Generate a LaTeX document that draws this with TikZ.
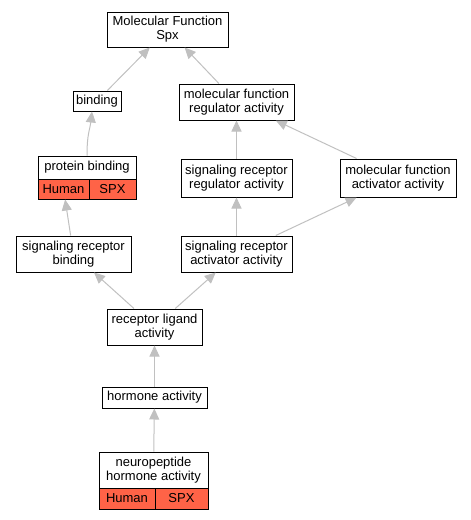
\documentclass[tikz,border=0pt]{standalone}
\usepackage{fontspec}
\setmainfont{Liberation Sans}
\usetikzlibrary{arrows.meta,calc}
\definecolor{tomato}{HTML}{FF6347}
\definecolor{edgegray}{HTML}{C0C0C0}
\begin{document}
\begin{tikzpicture}[
    x=1pt, y=-1pt,
    font=\fontsize{13}{14}\selectfont,
    box/.style={draw, fill=white, line width=1pt, align=center, inner sep=0pt},
    cell/.style={box, fill=tomato},
    edge/.style={draw=edgegray, line width=1pt, -{Triangle[length=11pt,width=10pt,fill=edgegray]}}
]
\useasboundingbox (0,0) rectangle (471,520);

% Top
\node[box, minimum width=121pt, minimum height=35pt] (mf) at (167.5, 29.5) {Molecular Function\\Spx};
\node[box, minimum width=48pt, minimum height=20pt] (bind) at (97, 101) {binding};
\node[box, minimum width=115pt, minimum height=36pt] (mfreg) at (236.5, 102) {molecular function\\regulator activity};

% Middle
\node[box, minimum width=98pt, minimum height=23pt] (pb) at (87, 167.5) {protein binding};
\node[cell, minimum width=51pt, minimum height=20pt] (pbhuman) at (63.5, 189) {Human};
\node[cell, minimum width=47pt, minimum height=20pt] (pbspx) at (112.5, 189) {SPX};
\node[box, minimum width=111pt, minimum height=38pt] (srreg) at (236.5, 178) {signaling receptor\\regulator activity};
\node[box, minimum width=116pt, minimum height=38pt] (mfact) at (398, 178) {molecular function\\activator activity};

\node[box, minimum width=115pt, minimum height=36pt] (srb) at (73.5, 254) {signaling receptor\\binding};
\node[box, minimum width=111pt, minimum height=36pt] (sract) at (236.5, 254) {signaling receptor\\activator activity};

% Bottom
\node[box, minimum width=95pt, minimum height=36pt] (rla) at (154.5, 327) {receptor ligand\\activity};
\node[box, minimum width=105pt, minimum height=21pt] (hor) at (154.5, 397.5) {hormone activity};
\node[box, minimum width=109pt, minimum height=36pt] (np) at (153.5, 470) {neuropeptide\\hormone activity};
\node[cell, minimum width=56pt, minimum height=21pt] (nphuman) at (127, 498.5) {Human};
\node[cell, minimum width=53pt, minimum height=21pt] (npspx) at (181.5, 498.5) {SPX};

% Edges
\draw[edge] (bind) -- (mf);
\draw[edge] (mfreg) -- (mf);
\draw[edge] (pb.north) .. controls +(0,-22) and +(-2,18) .. ($(bind.south)+(-5,0)$);
\draw[edge] (srreg) -- (mfreg);
\draw[edge] (mfact) -- (mfreg);
\draw[edge] (srb) -- (pbhuman);
\draw[edge] (sract) -- (srreg);
\draw[edge] (sract) -- (mfact);
\draw[edge] (rla) -- (srb);
\draw[edge] (rla) -- (sract);
\draw[edge] (hor) -- (rla);
\draw[edge] (np) -- (hor);

\end{tikzpicture}
\end{document}
